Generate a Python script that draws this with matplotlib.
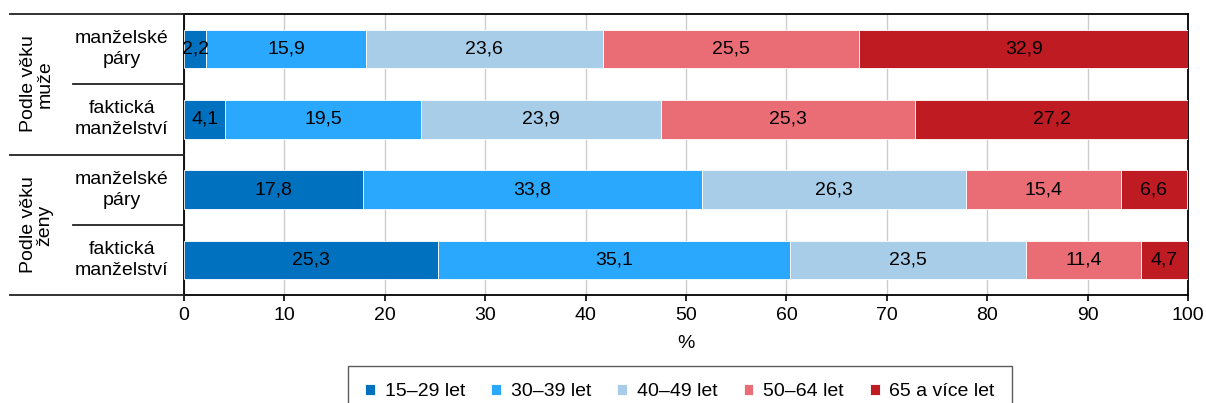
import matplotlib.pyplot as plt
from matplotlib.lines import Line2D

plt.rcParams["font.family"] = ["Liberation Sans", "DejaVu Sans"]
plt.rcParams["font.size"] = 14

series = ["15–29 let", "30–39 let", "40–49 let", "50–64 let", "65 a více let"]
colors = ["#0071BE", "#2AA8FD", "#A7CDE8", "#EA6C74", "#BE1B23"]
rows = ["manželské\npáry", "faktická\nmanželství", "manželské\npáry", "faktická\nmanželství"]
groups = ["Podle věku\nmuže", "Podle věku\nženy"]
values = [
    [2.2, 4.1, 17.8, 25.3],
    [15.9, 19.5, 33.8, 35.1],
    [23.6, 23.9, 26.3, 23.5],
    [25.5, 25.3, 15.4, 11.4],
    [32.9, 27.2, 6.6, 4.7],
]

W, H = 1206, 403
fig = plt.figure(figsize=(W / 100, H / 100), dpi=100)
ax = fig.add_axes([184 / W, 1 - 295 / H, (1188 - 184) / W, (295 - 14) / H])

ypos = list(range(len(rows)))
left = [0.0] * len(rows)
for name, col, vals in zip(series, colors, values):
    bars = ax.barh(ypos, vals, left=left, height=0.55, color=col,
                   edgecolor="white", linewidth=0.6, label=name, zorder=3)
    for b, v in zip(bars, vals):
        ax.text(b.get_x() + b.get_width() / 2, b.get_y() + b.get_height() / 2,
                f"{v:.1f}".replace(".", ","), ha="center", va="center",
                fontsize=14, color="black", zorder=4)
    left = [l + v for l, v in zip(left, vals)]

ax.set_xlim(0, 100)
ax.set_ylim(len(rows) - 0.5, -0.5)
ax.set_xticks(range(0, 101, 10))
ax.set_yticks([])
ax.xaxis.grid(True, color="#cccccc", linewidth=1, zorder=0)
ax.tick_params(axis="x", length=4.5, width=1.2, labelsize=14, pad=4)
ax.set_xlabel("%", fontsize=14, labelpad=8)
for s in ax.spines.values():
    s.set_color("black")
    s.set_linewidth(1.3)

# table on the left
def fx(px):
    return px / W

def fy(py):
    return 1 - py / H

for py in (14, 155, 295):
    fig.add_artist(Line2D([fx(10), fx(184)], [fy(py), fy(py)], color="#222222", lw=1.3))
for py in (84, 225):
    fig.add_artist(Line2D([fx(73), fx(184)], [fy(py), fy(py)], color="#222222", lw=1.3))

row_centers = [49, 119, 190, 260]
for lab, py in zip(rows, row_centers):
    fig.text(fx(122), fy(py), lab, ha="center", va="center", fontsize=14,
             linespacing=1.35)
for lab, py in zip(groups, (84, 225)):
    fig.text(fx(37), fy(py), lab, ha="center", va="center", fontsize=14,
             rotation=90, linespacing=0.95)

leg = fig.legend(loc="upper center", bbox_to_anchor=(680 / W, fy(366)), ncol=5,
                 frameon=True, fancybox=False, edgecolor="#333333",
                 handlelength=0.5, handleheight=0.5, handletextpad=0.5,
                 columnspacing=1.35, borderpad=0.9, borderaxespad=0,
                 fontsize=14)
leg.get_frame().set_linewidth(1)

fig.savefig("out.png", dpi=100)
plt.close(fig)
